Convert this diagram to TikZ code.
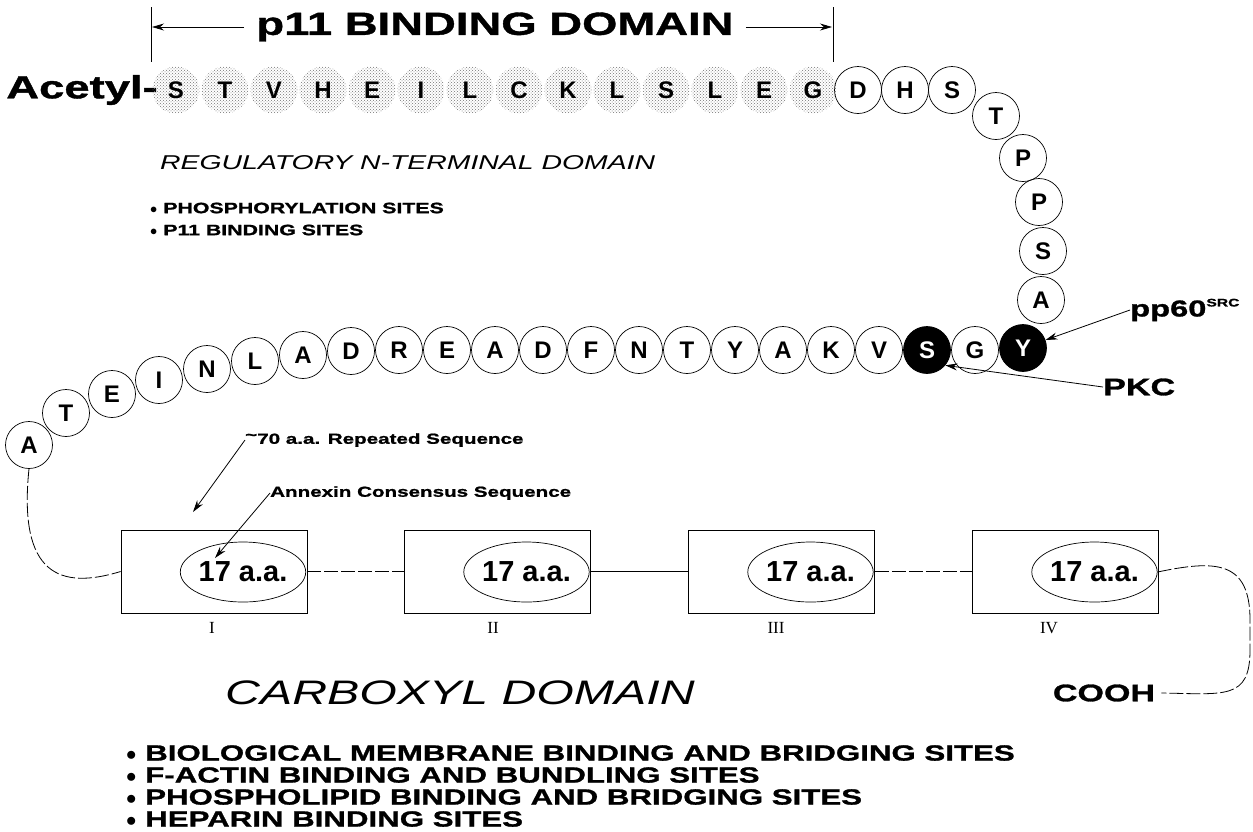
\documentclass[tikz,border=0pt]{standalone}
\usepackage{fontspec}
\setmainfont{Liberation Sans}
\newfontfamily\hfam{Liberation Sans}[FakeStretch=1.42,BoldFeatures={FakeBold=1.2}]
\newfontfamily\nfam{Liberation Sans}
\newfontfamily\serfam{Liberation Serif}
\usetikzlibrary{patterns,arrows.meta,shapes.geometric}
\newcommand\fHB[1]{\hfam\bfseries\fontsize{#1}{#1}\selectfont}
\newcommand\fHI[1]{\hfam\itshape\fontsize{#1}{#1}\selectfont}
\newcommand\fNB[1]{\nfam\bfseries\fontsize{#1}{#1}\selectfont}
\newcommand\fSR[1]{\serfam\fontsize{#1}{#1}\selectfont}
\begin{document}
\begin{tikzpicture}[x=1pt,y=-1pt,
  aa/.style={circle,draw,line width=0.7pt,minimum size=47pt,inner sep=0pt,font=\fNB{24}},
  sh/.style={circle,minimum size=47pt,inner sep=0pt,pattern=crosshatch dots,pattern color=black!55,font=\fNB{24}},
  bk/.style={aa,fill=black,text=white},
  dombox/.style={draw,line width=0.8pt,minimum width=186pt,minimum height=83pt,inner sep=0pt},
  ell/.style={ellipse,draw,line width=0.7pt,minimum width=112pt,minimum height=60pt,inner sep=0pt,font=\fNB{29}},
  arr/.style={-{Stealth[length=12pt,width=7pt]},line width=0.8pt},
  lbl/.style={inner sep=0pt,anchor=west},
  num/.style={inner sep=0pt,font=\fSR{17}},
  conn/.style={line width=0.8pt},
  brk/.style={line width=0.8pt,dash pattern=on 14pt off 3pt}
]
\useasboundingbox (0,0) rectangle (1253,831);
\fill[white] (0,0) rectangle (1253,831);

% title
\node[inner sep=0pt,font=\fHB{32}] (title) at (495,27) {p11 BINDING DOMAIN};
\coordinate (lbt) at (151,7); \coordinate (lbb) at (151,62);
\coordinate (rbt) at (833,7); \coordinate (rbb) at (833,62);
\coordinate (la) at (152,27); \coordinate (ra) at (832,27);
\draw[line width=0.8pt] (lbt) -- (lbb);
\draw[line width=0.8pt] (rbt) -- (rbb);
\draw[arr] ([xshift=-12pt]title.west) -- (la);
\draw[arr] ([xshift=12pt]title.east) -- (ra);

% acetyl
\node[inner sep=0pt,anchor=east,font=\fHB{32}] (acetyl) at (158,90) {Acetyl-};

% shaded p11 binding circles
\foreach \l [count=\i from 0] in {S,T,V,H,E,I,L,C,K,L,S,L,E,G}
  \node[sh] (s\i) at (176+49*\i,90) {\l};

% open circles, top row and column
\foreach \l/\px/\py/\n in {D/858/90/o1,H/905/90/o2,S/952/90/o3,
   T/996/116/t1,P/1023/158/t2,P/1039/202/t3,S/1043/251/t4,A/1041/300/t5}
  \node[aa] (\n) at (\px,\py) {\l};

% second row
\foreach \l/\px/\py/\n in {A/29/445/a1,T/66/413/a2,E/112/394/a3,I/159/380/a4,
   N/207/369/a5,L/255/361/a6,A/303/355/a7,D/351/351/a8,R/399/350/a9,
   E/447/350/a10,A/495/350/a11,D/543/350/a12,F/591/350/a13,N/639/350/a14,
   T/687/350/a15,Y/735/350/a16,A/783/350/a17,K/831/350/a18,V/879/350/a19,
   G/975/350/a21}
  \node[aa] (\n) at (\px,\py) {\l};
\node[bk] (a20) at (927,350) {S};
\node[bk] (a22) at (1023,348) {Y};

% regulatory domain texts
\node[lbl,font=\fHI{20}] (reg) at (160,163) {REGULATORY N-TERMINAL DOMAIN};
\node[lbl,font=\fHB{15}] (ph) at (150,208) {$\bullet$ PHOSPHORYLATION SITES};
\node[lbl,font=\fHB{15}] (pb) at (150,230) {$\bullet$ P11 BINDING SITES};

% kinases
\node[lbl,font=\fHB{23}] (pp) at (1130,310) {pp60\raisebox{10pt}{\fHB{11}SRC}};
\node[lbl,font=\fHB{24}] (pkc) at (1103,387) {PKC};
\draw[arr] (pp.west) -- (a22);
\draw[arr] (pkc.west) -- (a20.-40);

% repeated sequence labels
\node[lbl,font=\fHB{14.5}] (rep) at (245,440) {\raisebox{4pt}{\textasciitilde}70 a.a. Repeated Sequence};
\node[lbl,font=\fHB{14.5}] (ann) at (270,493) {Annexin Consensus Sequence};

% domain boxes
\foreach \cx/\n in {214/1,497.5/2,781.5/3,1065.5/4}{
  \node[dombox] (b\n) at (\cx,571.5) {};
  \node[ell] (e\n) at (\cx+29,572) {17 a.a.};
}
\node[num] (n1) at (212,628) {I};
\node[num] (n2) at (493,628) {II};
\node[num] (n3) at (776,628) {III};
\node[num] (n4) at (1049,628) {IV};

\coordinate (repend) at (193,512);
\draw[arr] (rep.west) -- (repend);
\draw[arr] (ann.west) -- ([shift={(-28,-14)}]e1.center);

% connectors between repeats
\draw[brk] (b1.east) -- (b2.west);
\draw[conn] (b2.east) -- (b3.west);
\draw[brk] (b3.east) -- (b4.west);
\draw[brk] (a1.south) .. controls (18,575) and (60,590) .. (b1.west);

% carboxyl domain
\node[lbl,font=\fHI{34}] (carb) at (225,693) {CARBOXYL DOMAIN};
\node[inner sep=0pt,font=\fHB{24}] (cooh) at (1104,693) {COOH};
\draw[brk] (e4.east) .. controls (1215,560) and (1250,560) .. (1250,620)
   -- (1250,650) .. controls (1250,700) and (1225,694) .. ([xshift=6pt]cooh.east);

\node[lbl,font=\fHB{22}] (c1) at (126,753) {$\bullet$ BIOLOGICAL MEMBRANE BINDING AND BRIDGING SITES};
\node[lbl,font=\fHB{22}] (c2) at (126,775) {$\bullet$ F-ACTIN BINDING AND BUNDLING SITES};
\node[lbl,font=\fHB{22}] (c3) at (126,797) {$\bullet$ PHOSPHOLIPID BINDING AND BRIDGING SITES};
\node[lbl,font=\fHB{22}] (c4) at (126,819) {$\bullet$ HEPARIN BINDING SITES};
\end{tikzpicture}
\end{document}
